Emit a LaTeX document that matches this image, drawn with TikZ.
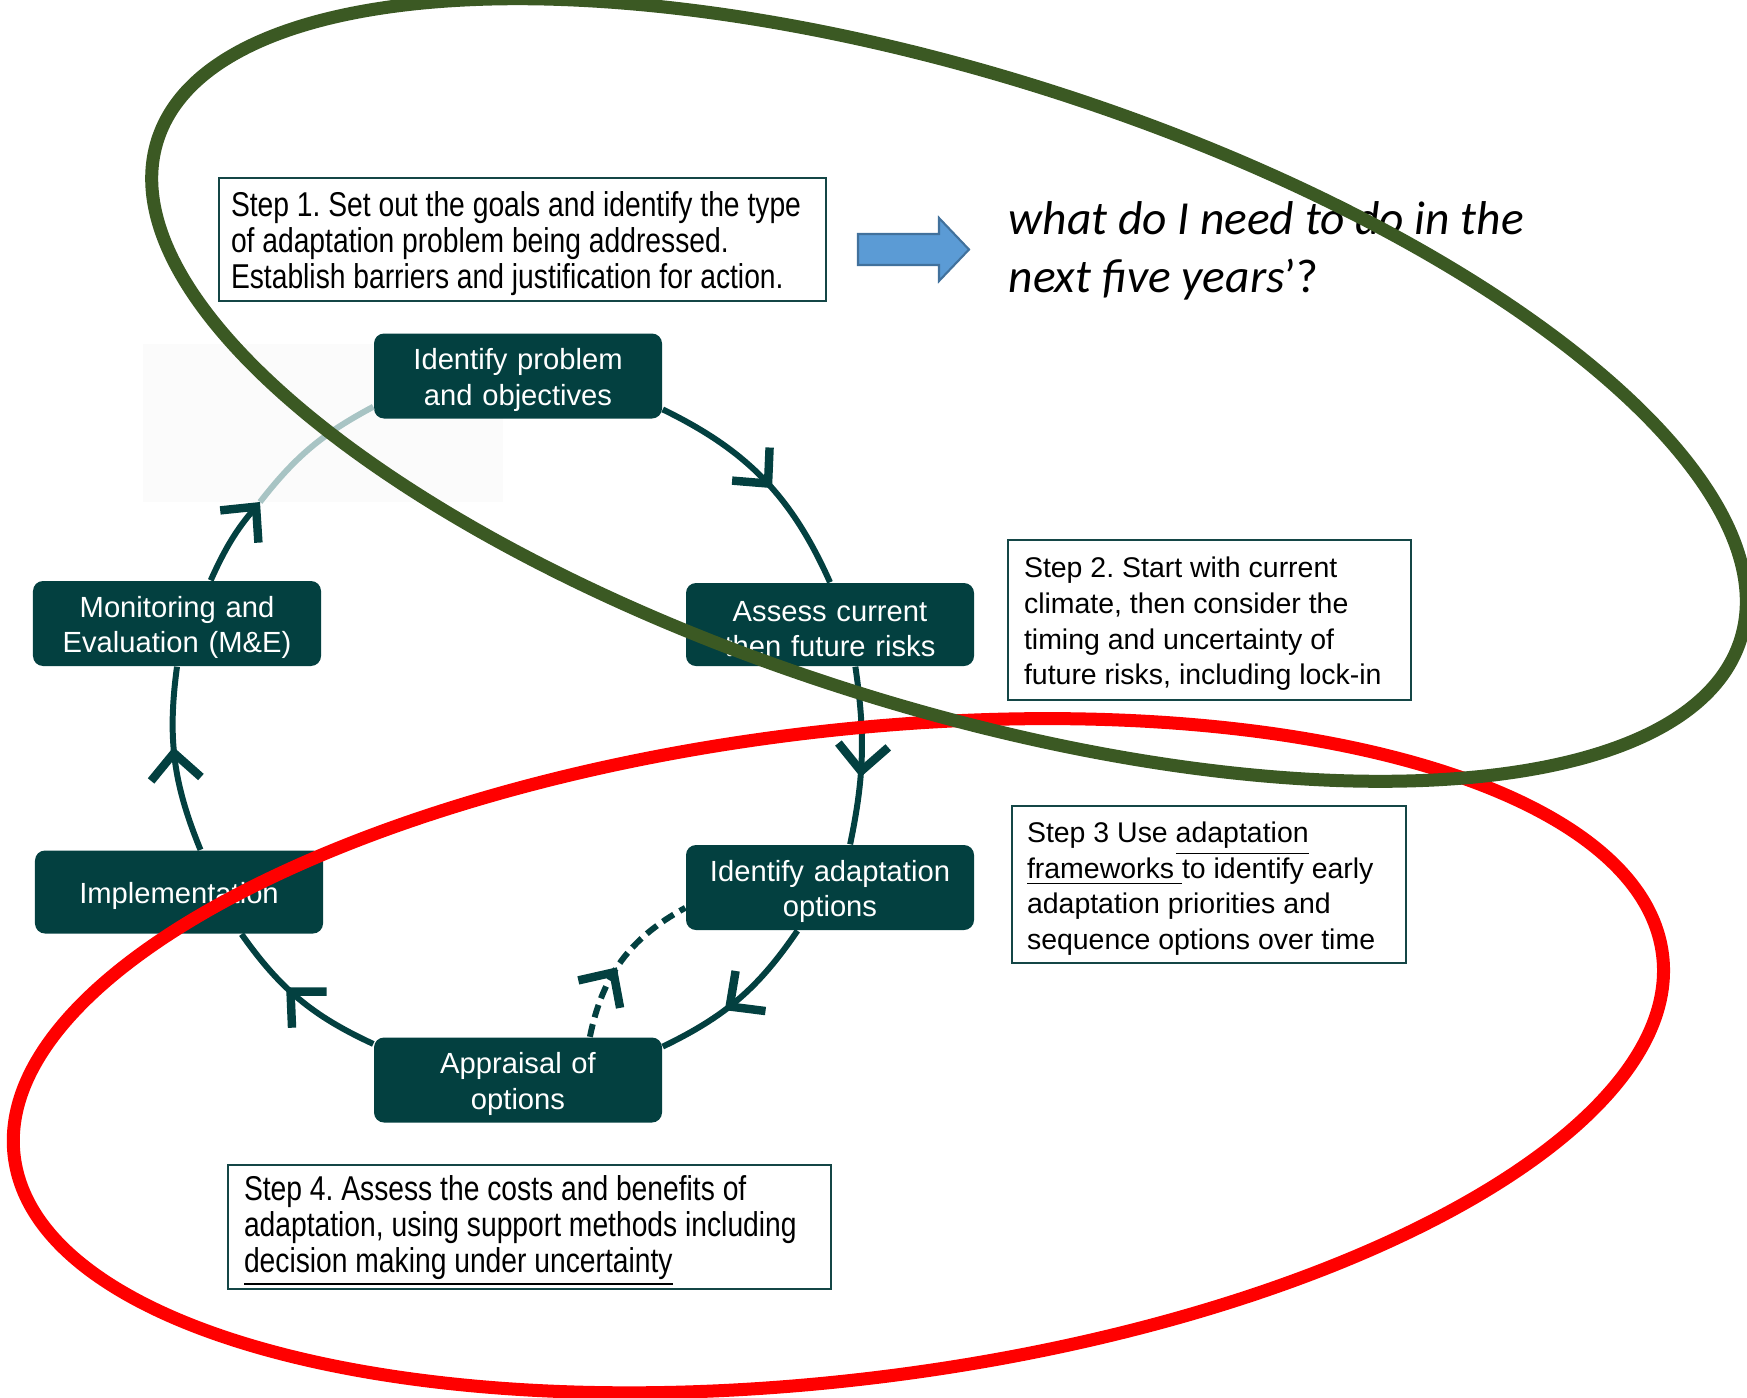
\documentclass[tikz,border=0pt]{standalone}
\usepackage{fontspec}
\setmainfont{Liberation Sans}
\newfontfamily\narrowfont[FakeStretch=0.82]{Liberation Sans}
\newfontfamily\calfont{Carlito}
\usetikzlibrary{arrows.meta,decorations.markings}
\definecolor{stagefill}{RGB}{3,64,64}
\definecolor{boxedge}{RGB}{20,70,70}
\definecolor{fadeline}{RGB}{168,196,196}
\definecolor{fadebg}{RGB}{251,251,251}
\definecolor{ringgreen}{RGB}{59,89,35}
\definecolor{ringred}{RGB}{255,0,0}
\definecolor{arrowblue}{RGB}{91,155,213}
\definecolor{arrowedge}{RGB}{65,113,156}
\newcommand\droptext{\rule{0pt}{\dimexpr\fontcharht\font`A+2.6pt\relax}}
\tikzset{cyctip/.tip={Straight Barb[length=2.6mm,width=5mm,line width=2.4pt]}}
\frenchspacing

\begin{document}
\begin{tikzpicture}[
    stage/.style={fill=stagefill, rounded corners=1mm, text=white, align=center, font=\fontsize{8.3}{10.15}\selectfont, text width=2.74cm, minimum height=0.83cm, inner xsep=0.07cm, inner ysep=2pt, execute at begin node=\droptext},
    stepbox/.style={draw=boxedge, line width=0.6pt, fill=white, align=flush left, font=\fontsize{8.1}{10.15}\selectfont, inner ysep=0pt, execute at begin node=\droptext},
    narrowbox/.style={stepbox, font=\narrowfont\fontsize{9.8}{10.15}\selectfont},
    cyc/.style={stagefill, line width=1.7pt},
    midtip/.style={postaction={decorate}, decoration={markings, mark=at position #1 with {\arrow{cyctip}}}},
    ring/.style={line width=3.7pt}
]
\useasboundingbox (0,0) rectangle (17.47,-13.97);
\fill[fadebg] (1.43,-3.44) rectangle (5.03,-5.02);

\node[narrowbox, inner xsep=0.12cm, text width=5.83cm, minimum height=1.23cm] (step1) at (5.225,-2.395) {Step 1. Set out the goals and identify the type\\ of adaptation problem being addressed.\\ Establish barriers and justification for action.};
\node[stepbox, inner xsep=0.16cm, text width=3.71cm, minimum height=1.60cm] (step2) at (12.095,-6.20) {Step 2. Start with current\\ climate, then consider the\\ timing and uncertainty of\\ future risks, including lock-in};
\node[stepbox, inner xsep=0.15cm, text width=3.64cm, minimum height=1.57cm] (step3) at (12.09,-8.845) {Step 3 Use \underline{adaptation}\\ \underline{frameworks\ }to identify early\\ adaptation priorities and\\ sequence options over time};
\node[narrowbox, inner xsep=0.16cm, text width=5.71cm, minimum height=1.24cm] (step4) at (5.295,-12.27) {Step 4. Assess the costs and benefits of\\ adaptation, using support methods including\\ \underline{decision making under uncertainty}};

\node[anchor=west, inner sep=0pt, align=left, font=\calfont\fontsize{13.5}{16.5}\selectfont] (ask) at (10.08,-2.505) {\itshape what do I need to do in the\\ \itshape next five years\upshape’?};
\draw[fill=arrowblue, draw=arrowedge, line width=0.6pt] (8.58,-2.34) -- (9.39,-2.34) -- (9.39,-2.18) -- (9.69,-2.495) -- (9.39,-2.81) -- (9.39,-2.65) -- (8.58,-2.65) -- cycle;

\node[stage] (prob) at (5.18,-3.76) {Identify problem\\ and objectives};
\node[stage] (risk) at (8.30,-6.245) {Assess current\\ then future risks};
\node[stage] (opts) at (8.30,-8.875) {Identify adaptation\\ options};
\node[stage] (appr) at (5.18,-10.80) {Appraisal of\\ options};
\node[stage] (impl) at (1.79,-8.92) {Implementation};
\node[stage] (mne) at (1.77,-6.235) {Monitoring and\\ Evaluation (M\&E)};
\coordinate (fade) at (2.60,-5.02);

\draw[cyc, midtip=0.55] (prob.-13) to[bend left=20] (risk.north);
\draw[cyc, midtip=0.62] (risk.-59) to[bend left=10] (opts.65);
\draw[cyc, midtip=0.6] (opts.-127) to[bend left=15] (appr.13);
\draw[cyc, midtip=0.6] (appr.166) to[bend left=15] (impl.-34);
\draw[cyc, midtip=0.57] (impl.63) to[bend left=15] (mne.south);
\draw[cyc, -cyctip] (mne.52) to[bend left=8] (fade);
\draw[fadeline, line width=1.7pt] (fade) to[bend left=12] (prob.192);
\draw[cyc, dash pattern=on 3.7pt off 2pt, midtip=0.45] (appr.31) to[bend left=25] (opts.188);

\draw[ring, ringred, rotate around={6.97:(8.384,-10.557)}] (8.384,-10.557) ellipse (8.303 and 3.24);
\draw[ring, ringgreen, rotate around={-17.5:(9.49,-3.90)}] (9.49,-3.90) ellipse (8.30 and 3.16);
\end{tikzpicture}
\end{document}
